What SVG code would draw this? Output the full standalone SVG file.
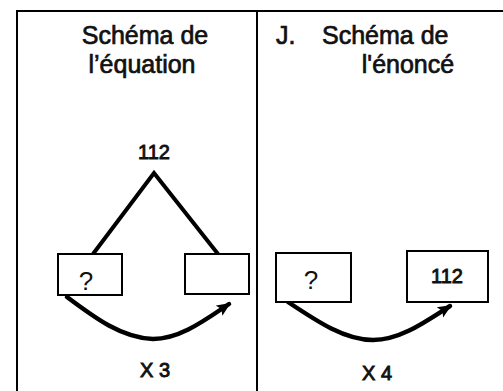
<svg xmlns="http://www.w3.org/2000/svg" width="503" height="391" viewBox="0 0 503 391">
<style>
.frame{stroke:#000;stroke-width:2;fill:none}
.box{fill:#fff;stroke:#000;stroke-width:2}
.title{font-family:"Liberation Sans",Arial,sans-serif;font-size:25px;fill:#111;stroke:#111;stroke-width:0.7}
.lbl{font-family:"Liberation Sans",Arial,sans-serif;font-size:20px;fill:#111;stroke:#111;stroke-width:0.9}
.q{font-family:"Liberation Sans",Arial,sans-serif;font-size:26px;fill:#111}
.edge{stroke:#000;stroke-width:4;fill:none;stroke-linejoin:miter}
.arc{stroke:#000;stroke-width:4.5;fill:none;stroke-linecap:round}
</style>
<defs>
<marker id="ah" markerUnits="userSpaceOnUse" markerWidth="16" markerHeight="14" refX="12" refY="6" orient="auto">
<path d="M0,0 L14,6 L0,12 L3,6 Z" fill="#000"/>
</marker>
</defs>
<rect width="503" height="391" fill="#fff"/>
<g id="frame">
<line class="frame" x1="17" y1="11" x2="503" y2="11"/>
<line class="frame" x1="17" y1="10" x2="17" y2="391"/>
<line class="frame" x1="257" y1="10" x2="257" y2="391"/>
</g>
<g id="title-left">
<text class="title" x="145" y="44" text-anchor="middle">Schéma de</text>
<text class="title" x="142" y="73" text-anchor="middle">l’équation</text>
</g>
<g id="title-right">
<text class="title" y="44"><tspan x="276">J.</tspan><tspan x="322">Schéma de</tspan></text>
<text class="title" x="408" y="73" text-anchor="middle">l'énoncé</text>
</g>
<g id="connectors">
<polyline class="edge" points="93,254 154,173 218,254"/>
<path class="arc" d="M67,297 C95,318 122,338 153,339 C180,339 205,320 229,304" marker-end="url(#ah)"/>
<path class="arc" d="M288,302 C318,322 345,340 373,340 C400,340 425,322 450,306" marker-end="url(#ah)"/>
</g>
<g id="sum-112">
<text class="lbl" x="154" y="159" text-anchor="middle">112</text>
</g>
<g id="box-left-q">
<rect class="box" x="58" y="254" width="64" height="41"/>
<text class="q" x="86" y="290" text-anchor="middle">?</text>
</g>
<g id="box-left-empty">
<rect class="box" x="185" y="254" width="64" height="40"/>
</g>
<g id="label-x3">
<text class="lbl" x="155" y="377" text-anchor="middle">X 3</text>
</g>
<g id="box-right-q">
<rect class="box" x="276" y="253" width="75" height="49"/>
<text class="q" x="311" y="289" text-anchor="middle">?</text>
</g>
<g id="box-right-112">
<rect class="box" x="407" y="251" width="81" height="51"/>
<text class="lbl" x="447" y="283" text-anchor="middle">112</text>
</g>
<g id="label-x4">
<text class="lbl" x="377" y="380" text-anchor="middle">X 4</text>
</g>
</svg>
